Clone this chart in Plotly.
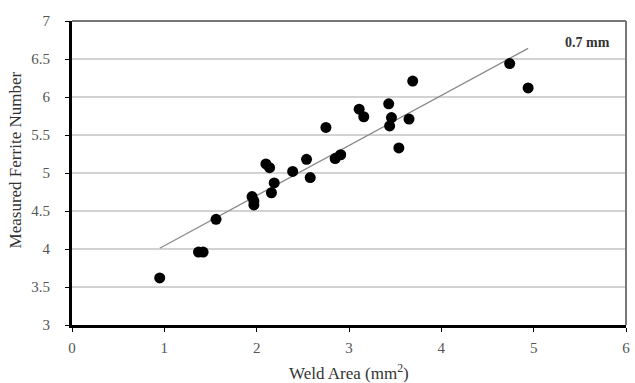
import plotly.graph_objects as go

# Data
weld_area = [0.95, 1.37, 1.42, 1.56, 1.95, 1.97, 1.97, 2.10, 2.14, 2.16, 2.19,
             2.39, 2.54, 2.58, 2.75, 2.85, 2.91, 3.11, 3.16, 3.43, 3.44, 3.46,
             3.54, 3.65, 3.69, 4.74, 4.94]
ferrite = [3.62, 3.96, 3.96, 4.39, 4.69, 4.63, 4.58, 5.12, 5.07, 4.74, 4.87,
           5.02, 5.18, 4.94, 5.60, 5.19, 5.24, 5.84, 5.74, 5.91, 5.62, 5.73,
           5.33, 5.71, 6.21, 6.44, 6.12]
trend_x = [0.95, 4.94]
trend_y = [4.01, 6.64]

x_ticks = [0, 1, 2, 3, 4, 5, 6]
y_ticks = [3, 3.5, 4, 4.5, 5, 5.5, 6, 6.5, 7]

serif = "Liberation Serif, Times New Roman, serif"

W, H = 635, 383
L, R, T, B = 72, 5, 21, 58

fig = go.Figure()
fig.add_trace(go.Scatter(x=trend_x, y=trend_y, mode="lines",
                         line=dict(color="#8a8a8a", width=1.3), showlegend=False))
fig.add_trace(go.Scatter(x=weld_area, y=ferrite, mode="markers",
                         marker=dict(color="black", size=11), showlegend=False))

fig.add_annotation(x=5.58, y=6.72, text="<b>0.7 mm</b>", showarrow=False,
                   xref="x", yref="y", font=dict(family=serif, size=14, color="#333"))

# axis titles placed in paper coordinates
pw, ph = W - L - R, H - T - B
fig.add_annotation(x=(351 - L) / pw, y=(H - B - 372) / ph, xref="paper", yref="paper",
                   xanchor="center", yanchor="middle",
                   text="Weld Area (mm<sup>2</sup>)", showarrow=False,
                   font=dict(family=serif, size=17, color="#333"))
fig.add_annotation(x=(15 - L) / pw, y=(H - B - 160) / ph, xref="paper", yref="paper",
                   xanchor="center", yanchor="middle",
                   text="Measured Ferrite Number", showarrow=False, textangle=-90,
                   font=dict(family=serif, size=17, color="#333"))

# top and right frame lines (thinner, grey)
fig.add_shape(type="line", xref="paper", yref="paper", x0=0, x1=1, y0=1, y1=1,
              line=dict(color="#777", width=2))
fig.add_shape(type="line", xref="paper", yref="paper", x0=1, x1=1, y0=0, y1=1,
              line=dict(color="#777", width=2))

fig.update_layout(
    width=W, height=H,
    margin=dict(l=L, r=R, t=T, b=B),
    paper_bgcolor="white", plot_bgcolor="white",
    font=dict(family=serif, size=15, color="#555"),
    xaxis=dict(range=[0, 6], tickvals=x_ticks, showgrid=False, zeroline=False,
               showline=True, linecolor="black", linewidth=3,
               ticks="outside", ticklen=4, tickcolor="black", ticklabelstandoff=3),
    yaxis=dict(range=[3, 7], tickvals=y_ticks, showgrid=True, gridcolor="#d2d2d2",
               gridwidth=2, zeroline=False,
               showline=True, linecolor="black", linewidth=3,
               ticks="outside", ticklen=4, tickcolor="black", ticklabelstandoff=12),
)

fig.write_html("out.html")
